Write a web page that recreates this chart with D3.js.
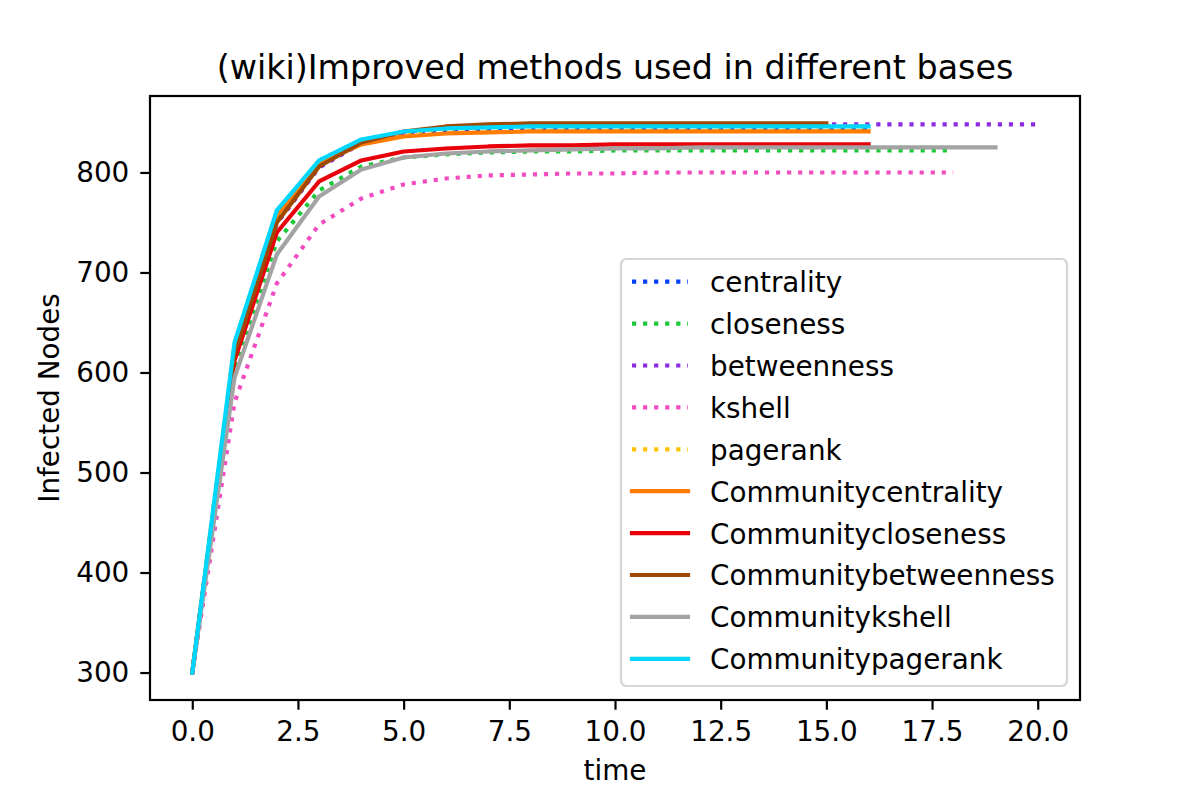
<!DOCTYPE html>
<html>
<head>
<meta charset="utf-8">
<script src="https://cdn.jsdelivr.net/npm/d3@7"></script>
<style>
  body { margin: 0; background: #fff; }
  text { font-family: "DejaVu Sans", sans-serif; fill: #000; }
</style>
</head>
<body>
<svg id="chart"></svg>
<script>
// Infected nodes per time step (index = time)
const centrality = [300, 624, 756, 809, 831, 839, 842, 843, 844, 844, 844, 844, 844, 844, 844, 844, 844];
const closeness = [300, 604, 731, 782, 806, 815, 818, 820, 821, 821, 822, 822, 822, 822, 822, 822, 822, 822, 822];
const betweenness = [300, 619, 749, 805, 829, 840, 845, 847, 848, 848, 848, 848, 848, 848, 848, 848, 848, 848, 848, 848, 848];
const kshell = [300, 570, 689, 748, 774, 788, 794, 797, 798, 799, 799, 800, 800, 800, 800, 800, 800, 800, 800];
const pagerank = [300, 629, 761, 811, 832, 840, 844, 845, 846, 846, 846, 846, 846, 846, 846, 846, 846];
const communityCentrality = [300, 622, 757, 809, 828, 836, 839, 840, 841, 841, 841, 841, 841, 841, 841, 841, 841];
const communityCloseness = [300, 612, 740, 791, 812, 821, 824, 826, 827, 827, 828, 828, 828, 828, 828, 828, 828];
const communityBetweenness = [300, 619, 750, 806, 830, 841, 846, 848, 849, 849, 849, 849, 849, 849, 849, 849];
const communityKshell = [300, 595, 718, 776, 803, 815, 819, 821, 822, 823, 824, 824, 825, 825, 825, 825, 825, 825, 825, 825];
const communityPagerank = [300, 630, 762, 812, 833, 841, 844, 845, 846, 846, 846, 846, 846, 846, 846, 846, 846];

const xTicks = [0, 2.5, 5, 7.5, 10, 12.5, 15, 17.5, 20];
const yTicks = [300, 400, 500, 600, 700, 800];

const series = [
  { label: "centrality", values: centrality, color: "#023eff", dotted: true },
  { label: "closeness", values: closeness, color: "#1ac938", dotted: true },
  { label: "betweenness", values: betweenness, color: "#8b2be2", dotted: true },
  { label: "kshell", values: kshell, color: "#f14cc1", dotted: true },
  { label: "pagerank", values: pagerank, color: "#ffc400", dotted: true },
  { label: "Communitycentrality", values: communityCentrality, color: "#ff7c00", dotted: false },
  { label: "Communitycloseness", values: communityCloseness, color: "#e8000b", dotted: false },
  { label: "Communitybetweenness", values: communityBetweenness, color: "#9f4800", dotted: false },
  { label: "Communitykshell", values: communityKshell, color: "#a3a3a3", dotted: false },
  { label: "Communitypagerank", values: communityPagerank, color: "#00d7ff", dotted: false }
];

const W = 1200, H = 800;
const plot = { left: 150, right: 1080, top: 96, bottom: 700 };
const lw = 4.17;
const fontPx = 27.8;

const svg = d3.select("#chart").attr("width", W).attr("height", H);

// matplotlib-style 5% margins
const maxT = d3.max(series, s => s.values.length - 1);
const yMin = d3.min(series, s => d3.min(s.values));
const yMax = d3.max(series, s => d3.max(s.values));
const xPad = maxT * 0.05, yPad = (yMax - yMin) * 0.05;

const x = d3.scaleLinear().domain([-xPad, maxT + xPad]).range([plot.left, plot.right]);
const y = d3.scaleLinear().domain([yMin - yPad, yMax + yPad]).range([plot.bottom, plot.top]);

// Lines
const line = d3.line().x((d, i) => x(i)).y(d => y(d));

svg.append("g").selectAll("path")
  .data(series)
  .enter()
  .append("path")
  .attr("fill", "none")
  .attr("stroke", d => d.color)
  .attr("stroke-width", lw)
  .attr("stroke-linejoin", "round")
  .attr("stroke-linecap", d => d.dotted ? "butt" : "square")
  .attr("stroke-dasharray", d => d.dotted ? `${lw} ${lw * 1.65}` : null)
  .attr("d", d => line(d.values));

// Axes
const xAxis = d3.axisBottom(x)
  .tickValues(xTicks)
  .tickFormat(d3.format(".1f"))
  .tickSizeInner(9.7)
  .tickSizeOuter(0)
  .tickPadding(12);

const yAxis = d3.axisLeft(y)
  .tickValues(yTicks)
  .tickFormat(d3.format("d"))
  .tickSizeInner(9.7)
  .tickSizeOuter(0)
  .tickPadding(11);

const gx = svg.append("g").attr("transform", `translate(0,${plot.bottom})`).call(xAxis);
const gy = svg.append("g").attr("transform", `translate(${plot.left},0)`).call(yAxis);

[gx, gy].forEach(g => {
  g.select(".domain").remove();
  g.selectAll(".tick line").attr("stroke", "#000").attr("stroke-width", 2.2);
  g.selectAll(".tick text")
    .style("font-family", "'DejaVu Sans', sans-serif")
    .style("font-size", fontPx + "px")
    .attr("fill", "#000");
});

// Frame
svg.append("rect")
  .attr("x", plot.left)
  .attr("y", plot.top)
  .attr("width", plot.right - plot.left)
  .attr("height", plot.bottom - plot.top)
  .attr("fill", "none")
  .attr("stroke", "#000")
  .attr("stroke-width", 2.2);

// Title and axis labels
svg.append("text")
  .attr("x", (plot.left + plot.right) / 2)
  .attr("y", 79)
  .attr("text-anchor", "middle")
  .style("font-size", "33.3px")
  .text("(wiki)Improved methods used in different bases");

svg.append("text")
  .attr("x", (plot.left + plot.right) / 2)
  .attr("y", 780)
  .attr("text-anchor", "middle")
  .style("font-size", fontPx + "px")
  .text("time");

svg.append("text")
  .attr("transform", `translate(59,${(plot.top + plot.bottom) / 2}) rotate(-90)`)
  .attr("text-anchor", "middle")
  .style("font-size", fontPx + "px")
  .text("Infected Nodes");

// Legend
const legend = svg.append("g").attr("class", "legend");

legend.append("rect")
  .attr("x", 621)
  .attr("y", 259)
  .attr("width", 446)
  .attr("height", 427)
  .attr("rx", 5.6)
  .attr("fill", "rgba(255,255,255,0.8)")
  .attr("stroke", "#d6d6d6")
  .attr("stroke-width", 2.2);

const rowStart = 281.7, rowStep = 41.9;

series.forEach((s, i) => {
  const cy = rowStart + i * rowStep;
  const item = legend.append("g").attr("transform", `translate(0,${cy})`);

  item.append("line")
    .attr("x1", 632)
    .attr("x2", 688)
    .attr("y1", 0)
    .attr("y2", 0)
    .attr("stroke", s.color)
    .attr("stroke-width", lw)
    .attr("stroke-linecap", s.dotted ? "butt" : "square")
    .attr("stroke-dasharray", s.dotted ? `${lw} ${lw * 1.65}` : null);

  item.append("text")
    .attr("x", 710)
    .attr("y", 10.4)
    .style("font-size", fontPx + "px")
    .text(s.label);
});
</script>
</body>
</html>
